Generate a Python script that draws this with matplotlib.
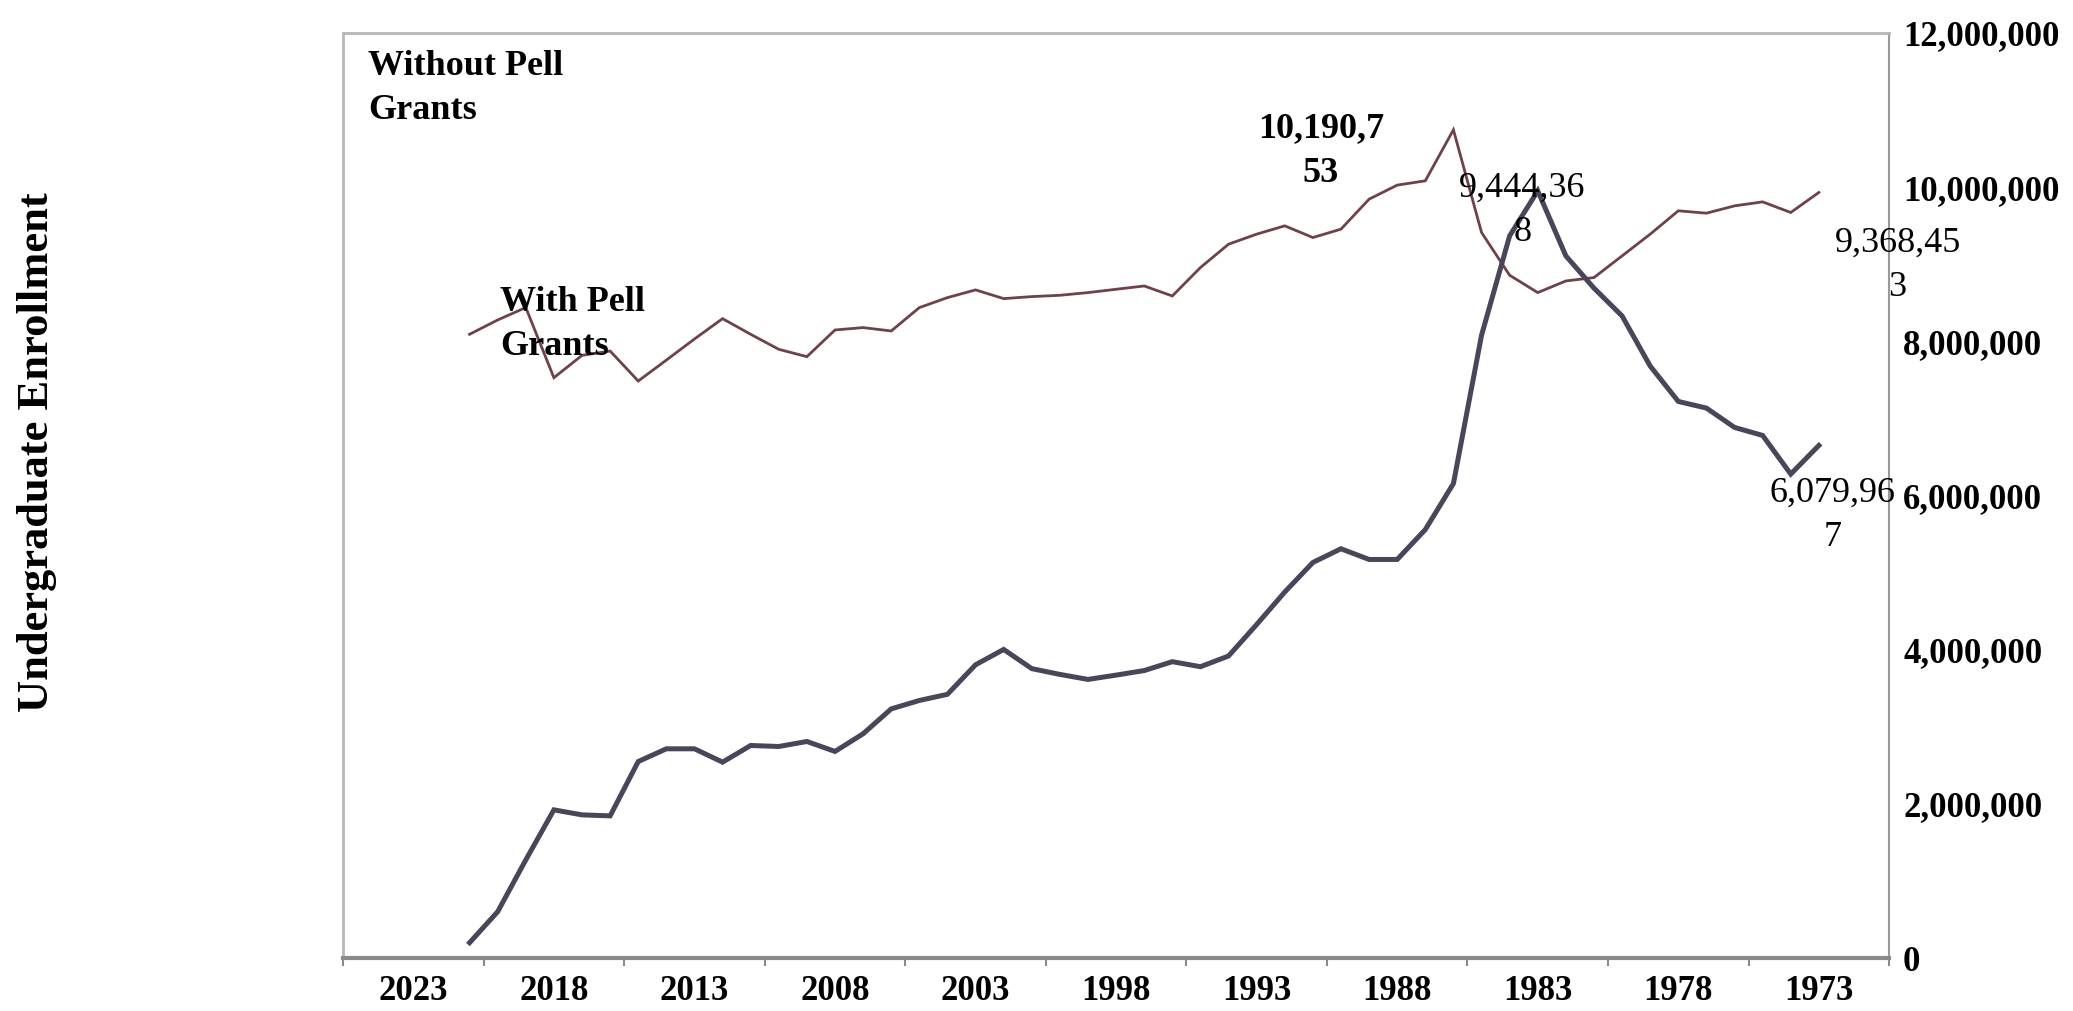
import matplotlib
matplotlib.use("Agg")
import matplotlib.pyplot as plt
from matplotlib.ticker import FuncFormatter

plt.rcParams["font.family"] = ["Liberation Serif", "DejaVu Serif"]

# category axis: one slot per year, newest on the left
categories = list(range(2023, 1968, -1))
tick_years = [2023, 2018, 2013, 2008, 2003, 1998, 1993, 1988, 1983, 1978, 1973]

# both series cover 2019 .. 1971
years = list(range(2019, 1970, -1))

with_pell = [
    8091000, 8277000, 8438000, 7528000, 7818000, 7874000, 7485000, 7756000,
    8030000, 8294000, 8091000, 7896000, 7801000, 8147000, 8178000, 8134000,
    8437000, 8567000, 8667000, 8554000, 8580000, 8597000, 8632000, 8675000,
    8718000, 8588000, 8957000, 9260000, 9390000, 9498000, 9346000, 9455000,
    9844000, 10026000, 10082000, 10744000, 9412000, 8857000, 8632000, 8783000,
    8827000, 9108000, 9390000, 9693000, 9662000, 9757000, 9809000, 9671000,
    9931000,
]

without_pell = [
    199000, 601000, 1273000, 1922000, 1857000, 1844000, 2549000, 2714000,
    2714000, 2541000, 2757000, 2744000, 2809000, 2680000, 2909000, 3232000,
    3341000, 3421000, 3804000, 4003000, 3754000, 3679000, 3614000, 3670000,
    3729000, 3844000, 3779000, 3918000, 4326000, 4748000, 5131000, 5309000,
    5170000, 5170000, 5558000, 6155000, 8078000, 9368000, 9952000, 9108000,
    8690000, 8329000, 7679000, 7220000, 7134000, 6883000, 6779000, 6278000,
    6649000,
]

pos = {y: i + 0.5 for i, y in enumerate(categories)}
x = [pos[y] for y in years]

fig = plt.figure(figsize=(20.73, 10.11), dpi=100)
ax = fig.add_axes([0.1655, 0.0524, 0.7458, 0.915])

ax.plot(x, with_pell, color="#6e4248", lw=2.0, solid_joinstyle="miter")
ax.plot(x, without_pell, color="#4b4559", lw=3.6, solid_joinstyle="miter")

ax.set_xlim(0, len(categories))
ax.set_ylim(0, 12_000_000)

# y axis on the right
ax.yaxis.tick_right()
ax.set_yticks(range(0, 12_000_001, 2_000_000))
ax.yaxis.set_major_formatter(FuncFormatter(lambda v, p: f"{int(v):,}"))
ax.tick_params(axis="y", length=0, pad=10, labelsize=25)
for lab in ax.get_yticklabels():
    lab.set_fontweight("bold")

# tick marks between groups of 5, labels centred in each group
ax.set_xticks(range(0, len(categories) + 1, 5))
ax.set_xticklabels([])
ax.set_xticks([pos[y] + 2 for y in tick_years], minor=True)
ax.set_xticklabels([str(y) for y in tick_years], minor=True,
                   fontsize=25, fontweight="bold")
ax.tick_params(axis="x", which="major", direction="out", length=6,
               width=1.5, color="#8a8a8a")
ax.tick_params(axis="x", which="minor", length=0, pad=12)

for side in ["top", "left"]:
    ax.spines[side].set_color("#b8b8b8")
    ax.spines[side].set_linewidth(2)
ax.spines["right"].set_color("#9a9a9a")
ax.spines["right"].set_linewidth(1.5)
ax.spines["bottom"].set_color("#8a8a8a")
ax.spines["bottom"].set_linewidth(3)

fig.text(0.018, 0.553, "Undergraduate Enrollment", rotation=90,
         ha="center", va="center", fontsize=32, fontweight="bold")

# annotations
ls = 1.45
ax.text(0.89, 11_780_000, "Without Pell\nGrants", ha="left", va="top",
        fontsize=26, fontweight="bold", linespacing=ls)
ax.text(5.59, 8_720_000, "With Pell\nGrants", ha="left", va="top",
        fontsize=26, fontweight="bold", linespacing=ls)
ax.text(34.78, 10_970_000, "10,190,7\n53", ha="center", va="top",
        fontsize=26, fontweight="bold", linespacing=ls)
ax.text(41.96, 10_196_000, "9,444,36\n8", ha="center", va="top",
        fontsize=26, linespacing=ls)
ax.text(55.3, 9_480_000, "9,368,45\n3", ha="center", va="top",
        fontsize=26, linespacing=ls, clip_on=False)
ax.text(53.0, 6_247_000, "6,079,96\n7", ha="center", va="top",
        fontsize=26, linespacing=ls)

fig.savefig("out.png", dpi=100)
